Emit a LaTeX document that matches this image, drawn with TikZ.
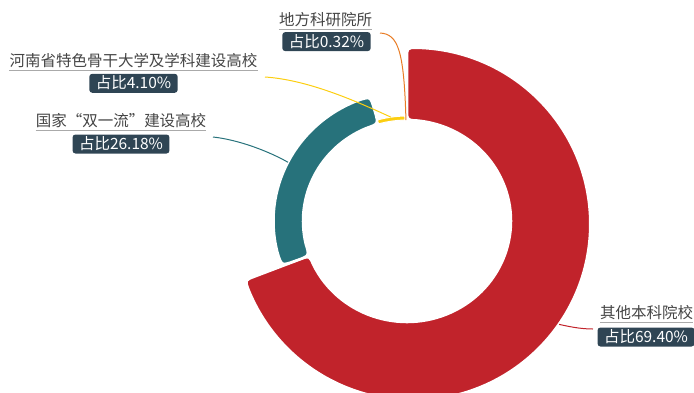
\documentclass[tikz,border=0pt]{standalone}
\usepackage{fontspec}
\setmainfont{Noto Sans CJK SC}
\usetikzlibrary{calc}
\definecolor{cRed}{HTML}{C1232B}
\definecolor{cTeal}{HTML}{27727B}
\definecolor{cYellow}{HTML}{FCCE10}
\definecolor{cOrange}{HTML}{E87C25}
\definecolor{cBox}{HTML}{2F4554}
\definecolor{cText}{HTML}{444444}
\definecolor{cLine}{HTML}{AAAAAA}
% ring sector with rounded corners; parameters set by \def before the call
\newcommand\ringsector[1]{%
 \pgfmathsetmacro\rsdo{\cc/\Rox*57.29578}%
 \pgfmathsetmacro\rsdi{\cc/\rix*57.29578}%
 \pgfmathsetmacro\rsAa{\sAo-\rsdo}%
 \pgfmathsetmacro\rsAb{\sBo+\rsdo}%
 \pgfmathsetmacro\rsAc{\sB+\rsdi}%
 \pgfmathsetmacro\rsAd{\sA-\rsdi}%
 \coordinate (rsoA) at ([shift={(\ox,\oy)}]\sAo:{\Rox} and {\Roy});
 \coordinate (rsoB) at ([shift={(\ox,\oy)}]\sBo:{\Rox} and {\Roy});
 \coordinate (rsiA) at (\sA:{\rix} and {\riy});
 \coordinate (rsiB) at (\sB:{\rix} and {\riy});
 \path[#1] ([shift={(\ox,\oy)}]\rsAa:{\Rox} and {\Roy})
   arc[start angle=\rsAa, end angle=\rsAb, x radius=\Rox, y radius=\Roy]
   .. controls (rsoB) .. ($(rsoB)!\cc pt!(rsiB)$) -- ($(rsiB)!\cc pt!(rsoB)$)
   .. controls (rsiB) .. (\rsAc:{\rix} and {\riy})
   arc[start angle=\rsAc, end angle=\rsAd, x radius=\rix, y radius=\riy]
   .. controls (rsiA) .. ($(rsiA)!\cc pt!(rsoA)$) -- ($(rsoA)!\cc pt!(rsiA)$)
   .. controls (rsoA) .. ([shift={(\ox,\oy)}]\rsAa:{\Rox} and {\Roy}) -- cycle;
}
\tikzset{
 nm/.style={anchor=base, inner sep=0pt, text=cText, font=\fontsize{15.5}{18}\selectfont},
 pct/.style={fill=cBox, text=white, rounded corners=3pt, inner xsep=6.5pt, inner ysep=1pt,
   text height=14pt, text depth=3pt, font=\fontsize{15.5}{18}\selectfont},
 uline/.style={draw=cLine, line width=1pt},
 lead/.style={line width=1pt},
 sect/.style={draw=white, line width=2.5pt},
}
\begin{document}
\begin{tikzpicture}[x=1pt,y=-1pt]
\useasboundingbox (0,0) rectangle (694,392);
\begin{scope}[shift={(407,221)}, yscale=-1]
 % red: 69.40%
 \def\sA{90}\def\sB{-159.84}\def\sAo{91.94}\def\sBo{-161.4}%
 \def\rix{104}\def\riy{101}\def\Rox{177.25}\def\Roy{176.25}\def\ox{6}\def\oy{-3}\def\cc{10}%
 \ringsector{sect, fill=cRed}
 % teal: 26.18%
 \def\sA{200.16}\def\sB{105.91}\def\sAo{200.16}\def\sBo{105.91}%
 \def\Rox{133.5}\def\Roy{129.5}\def\ox{0}\def\oy{0}\def\cc{13}%
 \ringsector{sect, fill=cTeal}
 % yellow: 4.10%
 \def\sA{105.91}\def\sB{91.15}\def\sAo{105.91}\def\sBo{91.15}%
 \def\Rox{108}\def\Roy{105}\def\cc{1.5}%
 \ringsector{fill=cYellow, draw=white, line width=1pt}
 \coordinate (rS) at ([shift={(6,-3)}]-34.5:177.25);
 \coordinate (tS) at (153.03:133.5 and 129.5);
 \coordinate (yS) at (98.53:108 and 105);
 \coordinate (oS) at (90.58:104 and 101);
\end{scope}
% labels
\node[nm] (oN) at (325.5,25.8) {地方科研院所};
\node[pct] (oP) at (326.5,41.6) {占比0.32\%};
\node[nm] (yN) at (133.5,66.5) {河南省特色骨干大学及学科建设高校};
\node[pct] (yP) at (133.5,83.3) {占比4.10\%};
\node[nm] (tN) at (121,126.5) {国家“双一流”建设高校};
\node[pct] (tP) at (121,144) {占比26.18\%};
\node[nm] (rN) at (646.5,318.5) {其他本科院校};
\node[pct] (rP) at (646,337) {占比69.40\%};
\foreach \n in {oN,yN,tN,rN}
  \draw[uline] ([yshift=-3.5pt]\n.base west) -- ([yshift=-3.5pt]\n.base east);
% leader lines
\coordinate (oC1) at (404,50); \coordinate (oC2) at (398,34); \coordinate (oE) at (380,33);
\coordinate (yC1) at (360,103); \coordinate (yC2) at (310,80); \coordinate (yE) at (265,77);
\coordinate (tC1) at (270,152); \coordinate (tC2) at (240,140); \coordinate (tE) at (213,137);
\coordinate (rC1) at (567,326); \coordinate (rC2) at (579,329); \coordinate (rE) at (593,329);
\draw[lead, cOrange] (oS) .. controls (oC1) and (oC2) .. (oE);
\draw[lead, cYellow] (yS) .. controls (yC1) and (yC2) .. (yE);
\draw[lead, cTeal] (tS) .. controls (tC1) and (tC2) .. (tE);
\draw[lead, cRed] (rS) .. controls (rC1) and (rC2) .. (rE);
\end{tikzpicture}
\end{document}
